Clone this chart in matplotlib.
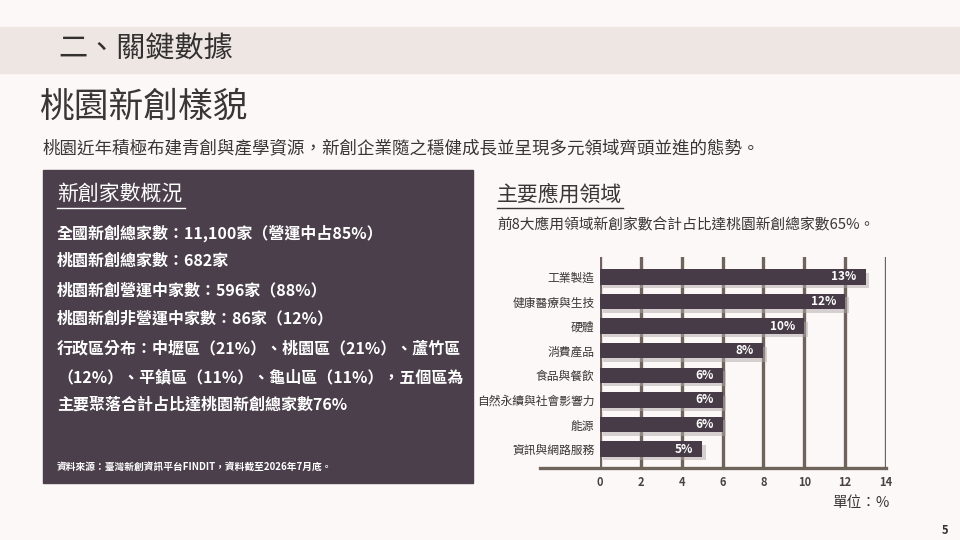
import matplotlib.pyplot as plt
import matplotlib.patheffects as pe

plt.rcParams['font.family'] = ['Noto Sans CJK TC', 'DejaVu Sans']

# data
categories = ['工業製造', '健康醫療與生技', '硬體', '消費產品', '食品與餐飲',
              '自然永續與社會影響力', '能源', '資訊與網路服務']
shares = [13, 12, 10, 8, 6, 6, 6, 5]
xticks = [0, 2, 4, 6, 8, 10, 12, 14]

box_lines = [
    '全國新創總家數：11,100家（營運中占85%）',
    '桃園新創總家數：682家',
    '桃園新創營運中家數：596家（88%）',
    '桃園新創非營運中家數：86家（12%）',
    '行政區分布：中壢區（21%）、桃園區（21%）、蘆竹區',
    '（12%）、平鎮區（11%）、龜山區（11%），五個區為',
    '主要聚落合計占比達桃園新創總家數76%',
]

W, H = 960, 540
bg = '#fcf8f7'
dark = '#4a3f4b'
bar_c = '#463b46'
grid_c = '#6e645c'
txt = '#3b3636'

fig = plt.figure(figsize=(9.6, 5.4), dpi=100, facecolor=bg)


def fx(x):
    return x / W


def fy(y):
    return 1 - y / H


# header band
fig.patches.append(plt.Rectangle((0, fy(73)), 1, (73 - 27) / H, transform=fig.transFigure,
                                 color='#ede6e3', zorder=0))
fig.text(fx(58), fy(50), '二、關鍵數據', fontsize=21, color='#333030', va='center')
fig.text(fx(40), fy(107), '桃園新創樣貌', fontsize=25, color=txt, va='center')
fig.text(fx(42), fy(148), '桃園近年積極布建青創與產學資源，新創企業隨之穩健成長並呈現多元領域齊頭並進的態勢。',
         fontsize=12.6, color=txt, va='center')

# left dark box
fig.patches.append(plt.Rectangle((fx(43), fy(483)), (473 - 43) / W, (483 - 170) / H,
                                 transform=fig.transFigure, color=dark, zorder=0))
fig.text(fx(57), fy(194), '新創家數概況', fontsize=15, color='white', va='center')
fig.add_artist(plt.Line2D([fx(57), fx(185)], [fy(208), fy(208)], color='white', lw=1))
line_y = [233, 261, 290, 318, 348, 377, 405]
for yy, s in zip(line_y, box_lines):
    fig.text(fx(57), fy(yy), s, fontsize=11.5, color='white', fontweight='bold', va='center')
fig.text(fx(57), fy(467), '資料來源：臺灣新創資訊平台FINDIT，資料截至2026年7月底。',
         fontsize=7, color='white', fontweight='bold', va='center')

# right side headings
fig.text(fx(497), fy(195), '主要應用領域', fontsize=15, color=txt, va='center')
fig.add_artist(plt.Line2D([fx(497), fx(623)], [fy(208), fy(208)], color=txt, lw=1))
fig.text(fx(497), fy(225), '前8大應用領域新創家數合計占比達桃園新創總家數65%。',
         fontsize=10.6, color=txt, va='center')

# bar chart
ax = fig.add_axes([fx(600), fy(468), (886 - 600) / W, (468 - 257) / H])
ax.set_facecolor('none')
pos = list(range(len(categories)))
bars = ax.barh(pos, shares, height=0.62, color=bar_c, zorder=3)
for b in bars:
    b.set_path_effects([pe.SimplePatchShadow(offset=(2.5, -2.5), shadow_rgbFace='#b0a8a8', alpha=0.5),
                        pe.Normal()])
for p, v in zip(pos, shares):
    ax.text(v - 0.45, p, f'{v}%', color='white', fontsize=8.5, fontweight='bold',
            ha='right', va='center', zorder=4)
for t in xticks:
    ax.axvline(t, color=grid_c, lw=2.4, zorder=1)
ax.axhline(7.77, xmin=-0.21, xmax=1.0, color=grid_c, lw=2.4, clip_on=False, zorder=2)
ax.set_xlim(0, 14)
ax.set_ylim(7.77, -0.81)
ax.set_xticks(xticks)
ax.set_xticklabels([str(t) for t in xticks], fontsize=8, fontweight='bold', color='#4a4242')
ax.set_yticks(pos)
ax.set_yticklabels(categories, fontsize=8.5, color=txt)
ax.tick_params(length=0, pad=6)
ax.tick_params(axis='y', pad=4)
for s in ax.spines.values():
    s.set_visible(False)

fig.text(fx(890), fy(503), '單位：%', fontsize=10.5, color=txt, ha='right', va='center')
fig.text(fx(948), fy(530), '5', fontsize=8, color='#333', fontweight='bold', ha='right', va='center')

fig.savefig('out.png', dpi=100, facecolor=bg)
